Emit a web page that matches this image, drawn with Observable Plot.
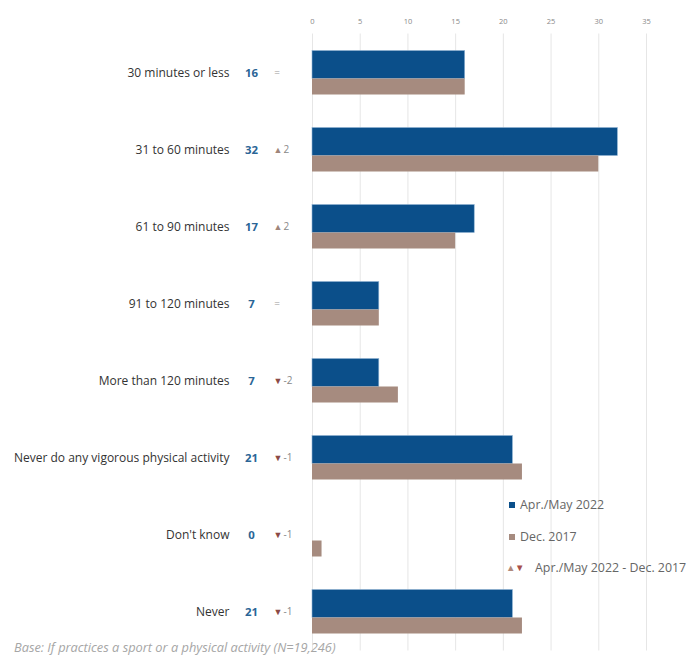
<!DOCTYPE html>
<html>
<head>
<meta charset="utf-8">
<script src="https://cdn.jsdelivr.net/npm/d3@7"></script>
<script src="https://cdn.jsdelivr.net/npm/@observablehq/plot@0.6"></script>
<style>
  body { margin: 0; background: #fff; font-family: "Open Sans", Lato, sans-serif; }
  #wrap { position: relative; width: 690px; height: 659px; }
  #chart { position: absolute; left: 0; top: 0; }
  .leg { position: absolute; font-size: 12.4px; color: #666; white-space: nowrap; line-height: 14px; }
  .sq { display: inline-block; width: 6px; height: 6px; margin-right: 5px; vertical-align: 1px; }
  .tri { font-size: 9.5px; display: inline-block; width: 8px; text-align: center; margin-right: 1px; vertical-align: 1px; }
  #foot { position: absolute; left: 14px; top: 638px; font-size: 12.8px; font-style: italic; color: #a6a6a6; white-space: nowrap; }
</style>
</head>
<body>
<div id="wrap">
  <div id="chart"></div>
  <div class="leg" style="left:509px; top:498px;"><span class="sq" style="background:#0b4f8a"></span>Apr./May 2022</div>
  <div class="leg" style="left:509px; top:530px;"><span class="sq" style="background:#a68b7f"></span>Dec. 2017</div>
  <div class="leg" style="left:506px; top:561px;"><span class="tri" style="color:#b08a7c">▲</span><span class="tri" style="color:#a8504a">▼</span><span style="margin-left:11px">Apr./May 2022 - Dec. 2017</span></div>
  <div id="foot">Base: If practices a sport or a physical activity (N=19,246)</div>
</div>
<script>
const categories = [
  "30 minutes or less",
  "31 to 60 minutes",
  "61 to 90 minutes",
  "91 to 120 minutes",
  "More than 120 minutes",
  "Never do any vigorous physical activity",
  "Don't know",
  "Never"
];
const apr2022 = [16, 32, 17, 7, 7, 21, 0, 21];
const dec2017 = [16, 30, 15, 7, 9, 22, 1, 22];
const change = [0, 2, 2, 0, -2, -1, -1, -1];
const xTicks = [0, 5, 10, 15, 20, 25, 30, 35];

const BLUE = "#0b4f8a";
const BROWN = "#a68b7f";

const data = categories.map((c, i) => ({
  cat: c,
  apr: apr2022[i],
  dec: dec2017[i],
  chg: change[i],
  sym: change[i] > 0 ? "▲" : change[i] < 0 ? "▼" : ""
}));
const same = data.filter(d => d.chg === 0);
const moved = data.filter(d => d.chg !== 0);

const chart = Plot.plot({
  width: 690,
  height: 659,
  marginLeft: 312,
  marginRight: 44,
  marginTop: 33.5,
  marginBottom: 8.5,
  style: { fontFamily: "'Open Sans', Lato, sans-serif", background: "#fff" },
  x: { domain: [0, 35], axis: null },
  y: { domain: categories, padding: 0, axis: null },
  marks: [
    Plot.gridX(xTicks, { stroke: "#e6e6e6", strokeOpacity: 1, strokeWidth: 1 }),
    Plot.axisX(xTicks, { anchor: "top", tickSize: 0, tickPadding: 10, fontSize: 7.5, fill: "#888", tickFormat: d => d }),
    Plot.barX(data, { x: "apr", y: "cat", fill: BLUE, stroke: "#8fb3d3", strokeWidth: 0.6, insetTop: 16.5, insetBottom: 32.5 }),
    Plot.barX(data, { x: "dec", y: "cat", fill: BROWN, insetTop: 44.5, insetBottom: 16.5 }),
    Plot.text(data, { y: "cat", text: "cat", frameAnchor: "left", dx: -83, textAnchor: "end", fontSize: 12, fill: "#333" }),
    Plot.text(data, { y: "cat", text: d => String(d.apr), frameAnchor: "left", dx: -61, textAnchor: "middle", fontSize: 11.4, fontWeight: "bold", fill: "#2a6596" }),
    Plot.text(same, { y: "cat", text: () => "=", frameAnchor: "left", dx: -35.5, textAnchor: "middle", fontSize: 10, fill: "#999" }),
    Plot.text(moved, { y: "cat", text: "sym", frameAnchor: "left", dx: -34.5, textAnchor: "middle", fontSize: 9, fill: d => d.chg > 0 ? "#a0857a" : "#8c4a45" }),
    Plot.text(moved, { y: "cat", text: d => String(d.chg), frameAnchor: "left", dx: -29, textAnchor: "start", fontSize: 10, fill: "#888" })
  ]
});
document.getElementById("chart").appendChild(chart);
</script>
</body>
</html>
